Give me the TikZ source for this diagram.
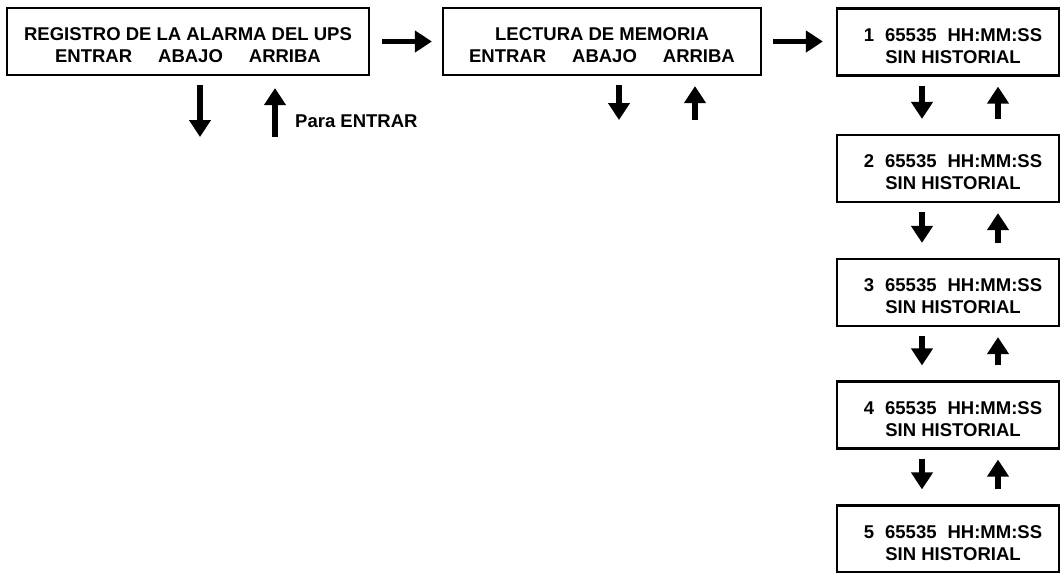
\documentclass[tikz,border=0pt]{standalone}
\usepackage{fontspec}
\setmainfont{Liberation Sans}
\usetikzlibrary{arrows.meta}
\begin{document}
\begin{tikzpicture}[x=1pt,y=-1pt,
  box/.style={draw, line width=2.2pt, inner sep=0pt, align=center,
    font=\fontsize{18.5}{22}\selectfont\bfseries},
  wbox/.style={box, minimum width=362pt, minimum height=67pt},
  mbox/.style={box, minimum width=318pt, minimum height=67pt},
  rbox/.style={box, minimum width=222pt, minimum height=67pt},
  arr/.style={line width=5.5pt, -{Triangle[width=21pt,length=17pt]}},
  lbl/.style={font=\fontsize{18.5}{22}\selectfont\bfseries, inner sep=0pt}]
\useasboundingbox (0,0) rectangle (1061,573);
\newcommand{\gapw}{\hspace{26pt}}
\newcommand{\gapr}{\hspace{11pt}}
\newcommand{\tstrut}{\rule{0pt}{21pt}}
\newcommand{\rtext}[1]{\tstrut\hspace*{10pt}#1\gapr65535\gapr HH:MM:SS\\\hspace*{10pt}SIN HISTORIAL}
% top row
\node[wbox] (b1) at (188,41.5) {\tstrut REGISTRO DE LA ALARMA DEL UPS\\ENTRAR\gapw ABAJO\gapw ARRIBA};
\node[mbox] (b2) at (602,41.5) {\tstrut LECTURA DE MEMORIA\\ENTRAR\gapw ABAJO\gapw ARRIBA};
% right column
\node[rbox] (r1) at (948,42) {\rtext{1}};
\node[rbox] (r2) at (948,168.5) {\rtext{2}};
\node[rbox] (r3) at (948,292.5) {\rtext{3}};
\node[rbox] (r4) at (948,415) {\rtext{4}};
\node[rbox] (r5) at (948,539) {\rtext{5}};
% horizontal arrows
\draw[arr, shorten <=12pt, shorten >=10pt] (b1.east) -- (b2.west);
\draw[arr, shorten <=11pt, shorten >=13pt] (b2.east) -- (r1.west |- b2.east);
% arrows under box 1
\coordinate (d1end) at (200,137);
\coordinate (u1start) at (275,137);
\draw[arr, shorten <=9pt] (b1.south -| d1end) -- (d1end);
\draw[arr, shorten >=12pt] (u1start) -- (b1.south -| u1start);
\node[lbl, anchor=base west] (para) at (295,127) {Para ENTRAR};
% arrows under box 2
\coordinate (d2end) at (619,120);
\coordinate (u2start) at (695,120);
\draw[arr, shorten <=9pt] (b2.south -| d2end) -- (d2end);
\draw[arr, shorten >=10pt] (u2start) -- (b2.south -| u2start);
% column arrows
\coordinate (dc) at (922,0);
\coordinate (uc) at (998,0);
\foreach \a/\b in {r1/r2,r2/r3,r3/r4,r4/r5}{
  \draw[arr, shorten <=9pt, shorten >=15pt] (\a.south -| dc) -- (\b.north -| dc);
  \draw[arr, shorten <=15pt, shorten >=10pt] (\b.north -| uc) -- (\a.south -| uc);
}
\end{tikzpicture}
\end{document}
